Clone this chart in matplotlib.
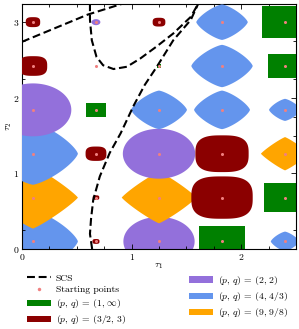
import numpy as np
import matplotlib
matplotlib.use("Agg")
import matplotlib.pyplot as plt
from matplotlib.patches import Polygon, Patch
from matplotlib.lines import Line2D

plt.rcParams['font.family'] = ['cmr10', 'DejaVu Serif']
plt.rcParams['mathtext.fontset'] = 'cm'
plt.rcParams['axes.formatter.use_mathtext'] = True
plt.rcParams['font.size'] = 7

# starting points grid
x_start = [0.1, 0.675, 1.25, 1.825, 2.4]
y_start = [0.1, 0.68, 1.26, 1.84, 2.42, 3.0]

# which (p, q) region each point belongs to, rows from bottom to top
cell_kind = [
    ['b', 'r', 'p', 'g', 'b'],
    ['o', 'r', 'o', 'r', 'g'],
    ['b', 'r', 'p', 'r', 'o'],
    ['p', 'g', 'b', 'b', 'b'],
    ['r', None, 'g', 'b', 'g'],
    ['r', 'p', 'r', 'b', 'g'],
]
cell_radius = [
    [0.41, 0.032, 0.325, 0.21, 0.13],
    [0.41, 0.03, 0.34, 0.28, 0.19],
    [0.41, 0.095, 0.33, 0.243, 0.22],
    [0.35, 0.094, 0.255, 0.255, 0.146],
    [0.13, 0.0, 0.022, 0.28, 0.16],
    [0.066, 0.04, 0.058, 0.235, 0.21],
]

kinds = ['g', 'r', 'p', 'b', 'o']
kind_q = {'g': np.inf, 'r': 3.0, 'p': 2.0, 'b': 4 / 3, 'o': 9 / 8}
kind_color = {'g': 'green', 'r': 'darkred', 'p': 'mediumpurple',
              'b': 'cornflowerblue', 'o': 'orange'}
kind_label = {'g': r'$(p,\,q)\,=\,(1,\,\infty)$', 'r': r'$(p,\,q)\,=\,(3/2,\,3)$',
              'p': r'$(p,\,q)\,=\,(2,\,2)$', 'b': r'$(p,\,q)\,=\,(4,\,4/3)$',
              'o': r'$(p,\,q)\,=\,(9,\,9/8)$'}

# SCS curves
scs_a_x = [0.0, 0.3, 0.6, 0.93]
scs_a_y = [2.74, 2.92, 3.1, 3.25]
scs_b_x = [0.62, 0.62, 0.637, 0.68, 0.74, 0.835, 0.957, 1.08, 1.23, 1.38, 1.54, 1.61]
scs_b_y = [3.25, 3.03, 2.76, 2.54, 2.43, 2.38, 2.41, 2.52, 2.68, 2.85, 3.07, 3.25]
scs_c_x = [0.64, 0.62, 0.63, 0.65, 0.71, 0.80, 0.90, 1.02, 1.12, 1.23, 1.38, 1.54, 1.61]
scs_c_y = [0.0, 0.2, 0.4, 0.65, 0.96, 1.27, 1.53, 1.90, 2.17, 2.41, 2.76, 3.03, 3.25]


def lq_ball(cx, cy, r, q, n=200):
    if np.isinf(q):
        return np.array([[cx - r, cy - r], [cx + r, cy - r],
                         [cx + r, cy + r], [cx - r, cy + r]])
    t = np.linspace(0, 2 * np.pi, n)
    c, s = np.cos(t), np.sin(t)
    e = 2.0 / q
    px = cx + r * np.sign(c) * np.abs(c) ** e
    py = cy + r * np.sign(s) * np.abs(s) ** e
    return np.column_stack([px, py])


fig = plt.figure(figsize=(2.99, 3.29), dpi=100)
ax = fig.add_axes([22 / 299, 1 - 249 / 329, 274 / 299, 245 / 329])

for j, cy in enumerate(y_start):
    for i, cx in enumerate(x_start):
        k = cell_kind[j][i]
        r = cell_radius[j][i]
        if k is None or r <= 0:
            continue
        ax.add_patch(Polygon(lq_ball(cx, cy, r, kind_q[k]), closed=True,
                             facecolor=kind_color[k], edgecolor='none', zorder=1 + j))

dash = (0, (3.8, 1.8))
for sx, sy in [(scs_a_x, scs_a_y), (scs_b_x, scs_b_y), (scs_c_x, scs_c_y)]:
    ax.plot(sx, sy, color='black', lw=1.5, linestyle=dash, zorder=20)

gx, gy = np.meshgrid(x_start, y_start)
ax.plot(gx.ravel(), gy.ravel(), 'o', color='lightcoral', ms=2.2, mew=0, zorder=30)

ax.set_xlim(0, 2.5)
ax.set_ylim(0, 3.24)
ax.set_xticks([0, 1, 2])
ax.set_yticks([0, 1, 2, 3])
ax.set_xticks(np.arange(0, 2.51, 0.25), minor=True)
ax.set_yticks(np.arange(0, 3.24, 0.25), minor=True)
ax.tick_params(which='both', direction='in', top=True, right=True, width=0.6)
ax.tick_params(which='major', length=3.5, pad=2)
ax.tick_params(which='minor', length=2)
ax.set_xlabel(r'$\tau_1$', labelpad=0)
ax.set_ylabel(r'$\tau_2$', labelpad=-1)
for sp in ax.spines.values():
    sp.set_linewidth(0.8)

handles = [Line2D([], [], color='black', lw=1.5, linestyle=dash),
           Line2D([], [], marker='o', color='lightcoral', ls='none', ms=2.5, mew=0)]
labels = ['SCS', 'Starting points']
for k in kinds:
    handles.append(Patch(facecolor=kind_color[k], edgecolor='none'))
    labels.append(kind_label[k])

leg_kw = dict(loc='upper left', frameon=False, handlelength=2.5, handleheight=0.6,
              labelspacing=0.32, handletextpad=0.45, borderpad=0, borderaxespad=0,
              fontsize=7)
fig.legend(handles[:4], labels[:4], bbox_to_anchor=(27 / 299, 1 - 274 / 329), **leg_kw)
fig.legend(handles[4:], labels[4:], bbox_to_anchor=(189 / 299, 1 - 274 / 329), **leg_kw)

fig.savefig('out.png', dpi=100)
